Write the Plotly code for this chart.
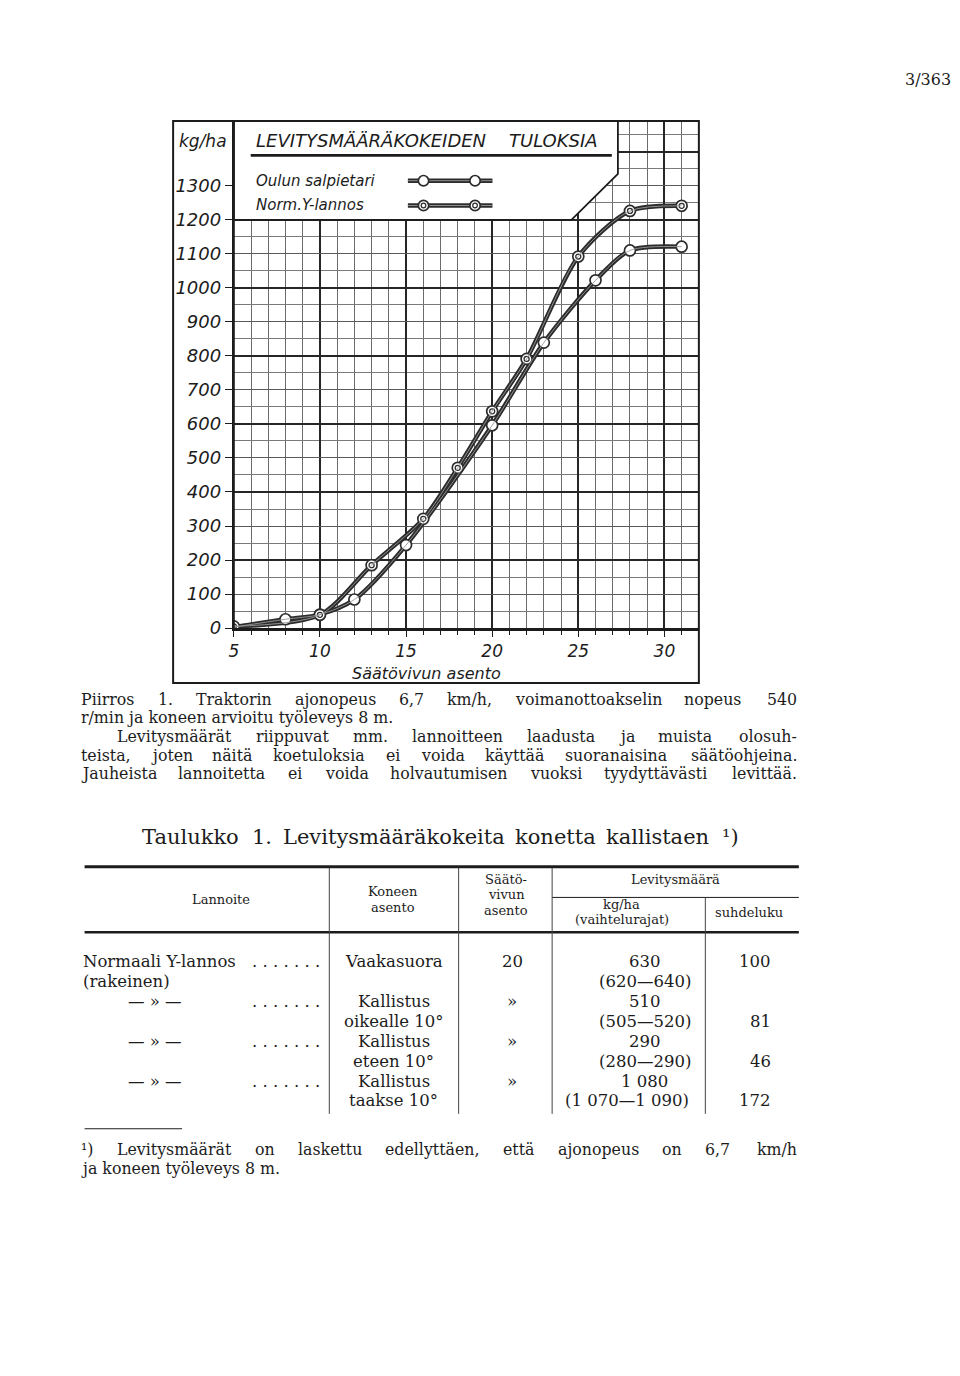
import plotly.graph_objects as go

# ---------------- chart data ----------------
oulun_x = [5, 8, 10, 12, 15, 20, 23, 26, 28, 31]
oulun_y = [3, 26, 40, 84, 244, 596, 839, 1022, 1110, 1121]
ylan_x = [5, 10, 13, 16, 18, 20, 22, 25, 28, 31]
ylan_y = [5, 39, 185, 321, 471, 637, 791, 1092, 1226, 1241]
series_names = ["Oulun salpietari", "Norm.Y-lannos"]
y_tick_vals = [0, 100, 200, 300, 400, 500, 600, 700, 800, 900, 1000, 1100, 1200, 1300]
y_tick_text = ["0", "100", "200", "300", "400", "500", "600", "700", "800", "900",
               "1000", "1100", "1200", "1300"]
x_tick_vals = [5, 10, 15, 20, 25, 30]
x_range = [5, 32]
y_range = [0, 1490]

chart_title = "LEVITYSMÄÄRÄKOKEIDEN\u00a0\u00a0\u00a0\u00a0TULOKSIA"
y_unit = "kg/ha"
x_title = "Säätövivun asento"
page_number = "3/363"

caption_lines = [
    "Piirros 1. Traktorin ajonopeus 6,7 km/h, voimanottoakselin nopeus 540",
    "r/min ja koneen arvioitu työleveys 8 m.",
    "Levitysmäärät riippuvat mm. lannoitteen laadusta ja muista olosuh-",
    "teista, joten näitä koetuloksia ei voida käyttää suoranaisina säätöohjeina.",
    "Jauheista lannoitetta ei voida holvautumisen vuoksi tyydyttävästi levittää.",
]
caption_justified = [True, False, True, True, True]

table_title = "Taulukko 1. Levitysmääräkokeita konetta kallistaen ¹)"
col_lannoite = ["Normaali Y-lannos", "(rakeinen)", "— » —", "", "— » —", "", "— » —", ""]
col_dots = [". . . . . . .", "", ". . . . . . .", "", ". . . . . . .", "", ". . . . . . .", ""]
col_asento = ["Vaakasuora", "", "Kallistus", "oikealle 10°", "Kallistus", "eteen 10°",
              "Kallistus", "taakse 10°"]
col_saato = ["20", "", "»", "", "»", "", "»", ""]
col_kgha = ["630", "(620—640)", "510", "(505—520)", "290", "(280—290)", "1 080", "(1 070—1 090)"]
col_suhde = ["100", "", "", "81", "", "46", "", "172"]

footnote_lines = [
    "¹) Levitysmäärät on laskettu edellyttäen, että ajonopeus on 6,7 km/h",
    "ja koneen työleveys 8 m.",
]

# ---------------- page geometry ----------------
W, H = 960, 1376
SERIF = "DejaVu Serif"
SANS = "DejaVu Sans"
INK = "#1c1c1c"
PLOT_L, PLOT_R, PLOT_T, PLOT_B = 230, 697.5, 122, 632.7
LEFT_FIX = 5  # annotations anchored left render a few px to the right


def px(x):
    return x / W


def py(y):
    return 1 - y / H


annotations = []
shapes = []


def ann(text, x, y, size, family=SERIF, xanchor="left", style="normal", color=INK):
    if xanchor == "left":
        x -= LEFT_FIX
    annotations.append(dict(text=text, x=px(x), y=py(y), xref="paper", yref="paper",
                            xanchor=xanchor, yanchor="middle", showarrow=False,
                            borderpad=0,
                            font=dict(family=family, size=size, color=color, style=style)))


def hline(x0, x1, y, width=1.0, color=INK, layer="above"):
    shapes.append(dict(type="line", xref="paper", yref="paper", x0=px(x0), x1=px(x1),
                       y0=py(y), y1=py(y), layer=layer, line=dict(color=color, width=width)))


def vline(x, y0, y1, width=1.0, color=INK, layer="above"):
    shapes.append(dict(type="line", xref="paper", yref="paper", x0=px(x), x1=px(x),
                       y0=py(y0), y1=py(y1), layer=layer, line=dict(color=color, width=width)))


# approximate advance widths (em) of DejaVu Serif, used to justify lines
CW = {' ': .318, 'a': .596, 'b': .640, 'c': .559, 'd': .640, 'e': .592, 'f': .371,
      'g': .640, 'h': .644, 'i': .320, 'j': .320, 'k': .610, 'l': .320, 'm': .948,
      'n': .644, 'o': .602, 'p': .640, 'r': .478, 's': .513, 't': .402, 'u': .644,
      'v': .565, 'y': .565, 'ä': .596, 'ö': .602, ',': .318, '.': .318, '/': .337,
      '-': .338, '(': .390, ')': .390, 'P': .733, 'T': .736, 'L': .706, 'J': .472,
      '¹': .40}
for d in "0123456789":
    CW[d] = .636


def tw(s, size):
    return sum(CW.get(c, .6) for c in s) * size


def justify(line, x0, x1, y, size):
    words = line.split(" ")
    widths = [tw(w, size) for w in words]
    gap = (x1 - x0 - sum(widths)) / (len(words) - 1)
    x = x0
    for i, (w, wd) in enumerate(zip(words, widths)):
        if i == len(words) - 1:
            ann(w, x1, y, size, xanchor="right")
        else:
            ann(w, x, y, size)
        x += wd + gap


# ---------------- figure ----------------
fig = go.Figure()

LINE_DARK = "#2c2c2c"
LINE_LIGHT = "#9a9a9a"
for xs, ys in [(oulun_x, oulun_y), (ylan_x, ylan_y)]:
    fig.add_trace(go.Scatter(x=xs, y=ys, mode="lines", showlegend=False, hoverinfo="skip",
                             line=dict(color=LINE_DARK, width=4.4, shape="spline", smoothing=0.8)))
    fig.add_trace(go.Scatter(x=xs, y=ys, mode="lines", showlegend=False, hoverinfo="skip",
                             yaxis="y2",
                             line=dict(color=LINE_LIGHT, width=0.9, shape="spline", smoothing=0.8)))

fig.add_trace(go.Scatter(x=oulun_x, y=oulun_y, mode="markers", name=series_names[0],
                         marker=dict(symbol="circle", size=11, color="white",
                                     line=dict(color=LINE_DARK, width=1.7))))
fig.add_trace(go.Scatter(x=ylan_x, y=ylan_y, mode="markers", name=series_names[1],
                         marker=dict(symbol="circle", size=11, color="white",
                                     line=dict(color=LINE_DARK, width=1.7))))
fig.add_trace(go.Scatter(x=ylan_x, y=ylan_y, mode="markers", showlegend=False, hoverinfo="skip",
                         marker=dict(symbol="circle-open", size=5, color=LINE_DARK,
                                     line=dict(width=1.3))))

fig.update_layout(
    width=W, height=H, autosize=False,
    margin=dict(l=0, r=0, t=0, b=0, pad=0),
    paper_bgcolor="white", plot_bgcolor="white",
    showlegend=False,
    xaxis=dict(domain=[px(PLOT_L), px(PLOT_R)], range=x_range, tickmode="array",
               tickvals=x_tick_vals, showgrid=True, gridcolor="#262626", gridwidth=1.6,
               zeroline=False, showline=True, linecolor=INK, linewidth=2.5,
               ticks="outside", ticklen=6, tickwidth=1.4, tickcolor=INK,
               tickfont=dict(family=SANS, size=17, color=INK, style="italic"),
               minor=dict(tickmode="linear", tick0=5, dtick=1, showgrid=True,
                          gridcolor="#6c6c6c", gridwidth=0.9, ticks="outside",
                          ticklen=4, tickwidth=1, tickcolor=INK),
               fixedrange=True),
    yaxis=dict(domain=[py(PLOT_B), py(PLOT_T)], range=y_range, tickmode="array",
               tickvals=y_tick_vals, ticktext=y_tick_text, showgrid=True,
               gridcolor="#5a5a5a", gridwidth=1.0, zeroline=False, showline=True,
               linecolor=INK, linewidth=2, ticks="outside", ticklen=7, tickwidth=1.4,
               tickcolor=INK,
               tickfont=dict(family=SANS, size=18, color=INK, style="italic"),
               minor=dict(tickmode="linear", tick0=0, dtick=50, showgrid=True,
                          gridcolor="#7a7a7a", gridwidth=0.9),
               fixedrange=True),
    yaxis2=dict(overlaying="y", anchor="x", range=y_range, tickmode="linear", tick0=0,
                dtick=200, showgrid=True, gridcolor="#262626", gridwidth=1.7,
                showticklabels=False, ticks="", showline=False, zeroline=False,
                fixedrange=True),
)

# title box (white area with cut corner) over the grid
shapes.append(dict(type="path", xref="x", yref="y", layer="above",
                   path="M 5,1490 L 27.3,1490 L 27.3,1335 L 24.6,1200 L 5,1200 Z",
                   fillcolor="white", line=dict(color=INK, width=1.8)))

# outer frame of the drawing
shapes.append(dict(type="rect", xref="paper", yref="paper", layer="above",
                   x0=px(169), x1=px(PLOT_R), y0=py(688), y1=py(PLOT_T),
                   line=dict(color=INK, width=2)))
vline(PLOT_L, PLOT_T, PLOT_B, width=2)

# chart texts
ann(y_unit, 199, 142, 17, family=SANS, xanchor="center", style="italic")
ann(chart_title, 256, 142, 18, family=SANS, style="italic")
hline(247, 610, 156.5, width=2.6)
ann(series_names[0], 256, 182, 15, family=SANS, style="italic")
ann(series_names[1], 256, 207, 15, family=SANS, style="italic")
ann(x_title, 424, 678, 16, family=SANS, xanchor="center", style="italic")

# legend key samples
for ky, ring in [(182, False), (207, True)]:
    hline(405, 490, ky, width=4.4, color=LINE_DARK)
    hline(405, 490, ky, width=0.9, color=LINE_LIGHT)
    for cx in (420.7, 472.5):
        shapes.append(dict(type="circle", xref="paper", yref="paper", layer="above",
                           x0=px(cx - 5.2), x1=px(cx + 5.2), y0=py(ky + 5.2), y1=py(ky - 5.2),
                           fillcolor="white", line=dict(color=LINE_DARK, width=1.7)))
        if ring:
            shapes.append(dict(type="circle", xref="paper", yref="paper", layer="above",
                               x0=px(cx - 2.3), x1=px(cx + 2.3), y0=py(ky + 2.3),
                               y1=py(ky - 2.3), fillcolor="white",
                               line=dict(color=LINE_DARK, width=1.2)))

# page number
ann(page_number, 952, 80, 16, xanchor="right")

# caption paragraph
TS = 15.8
cap_y = [704.5, 723.2, 741.9, 760.6, 779.3]
for i, (line, just) in enumerate(zip(caption_lines, caption_justified)):
    x0 = 117 if i == 2 else 80
    if just:
        justify(line, x0, 797, cap_y[i], TS)
    else:
        ann(line, x0, cap_y[i], TS)

# table title
justify(table_title, 142, 739, 843, 21)

# table rules
hline(80, 798, 873, width=3)
hline(80, 798, 939, width=2.4)
hline(550, 798, 904, width=1)
for cx in (326, 456, 550):
    vline(cx, 874, 1122, width=1, color="#444")
vline(704, 904, 1122, width=1, color="#444")

# table header
HS = 13
ann("Lannoite", 217, 906, HS, xanchor="center")
ann("Koneen", 390, 898, HS, xanchor="center")
ann("asento", 390, 914, HS, xanchor="center")
ann("Säätö-", 504, 886, HS, xanchor="center")
ann("vivun", 504, 901.5, HS, xanchor="center")
ann("asento", 504, 917, HS, xanchor="center")
ann("Levitysmäärä", 674, 886, HS, xanchor="center")
ann("kg/ha", 620, 911, HS, xanchor="center")
ann("(vaihtelurajat)", 620, 926, HS, xanchor="center")
ann("suhdeluku", 748, 919, HS, xanchor="center")

# table body
BS = 16.5
for i in range(len(col_asento)):
    ry = 969 + 20 * i
    lan = col_lannoite[i]
    if lan.startswith("—"):
        ann(lan, 151, ry, BS, xanchor="center")
    elif lan:
        ann(lan, 82, ry, BS)
    if col_dots[i]:
        ann(col_dots[i], 318, ry, BS, xanchor="right")
    if col_asento[i]:
        ann(col_asento[i], 391, ry, BS, xanchor="center")
    if col_saato[i]:
        ann(col_saato[i], 510, ry, BS, xanchor="center")
    if col_kgha[i]:
        cx = 625 if len(col_kgha[i]) > 10 else 643
        ann(col_kgha[i], cx, ry, BS, xanchor="center")
    if col_suhde[i]:
        ann(col_suhde[i], 771, ry, BS, xanchor="right")

# footnote
hline(80, 178, 1137, width=1.2)
justify(footnote_lines[0], 80, 797, 1158, TS)
ann(footnote_lines[1], 80, 1177.5, TS)

fig.update_layout(annotations=annotations, shapes=shapes)
fig.write_html("out.html")
